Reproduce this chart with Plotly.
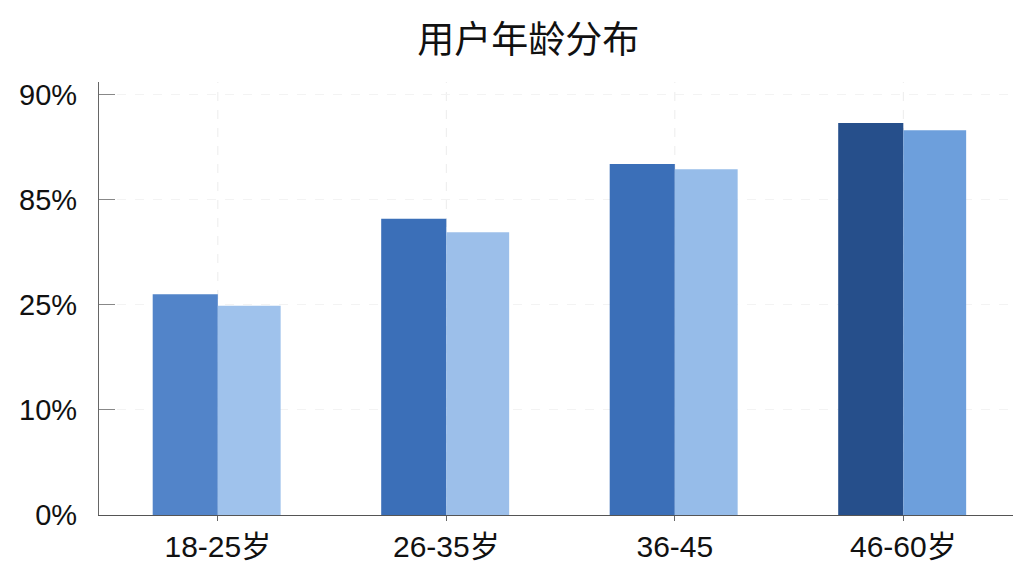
import plotly.graph_objects as go

# age groups and the two bar series (values in axis grid units)
age_groups = ['18-25岁', '26-35岁', '36-45', '46-60岁']
series_a = [2.10, 2.82, 3.34, 3.73]
series_b = [1.99, 2.69, 3.29, 3.66]

# y tick labels as printed on the chart
tick_pos = [0, 1, 2, 3, 4]
tick_text = ['0%', '10%', '25%', '85%', '90%']

colors_a = ['#5284c9', '#3b6fb8', '#3b6fb8', '#264f8b']
colors_b = ['#9fc2ec', '#9cbfea', '#96bce9', '#6d9fdc']

fig = go.Figure()
fig.add_trace(go.Bar(x=age_groups, y=series_a, width=0.285, offset=-0.285,
                     marker=dict(color=colors_a, line=dict(width=0))))
fig.add_trace(go.Bar(x=age_groups, y=series_b, width=0.275, offset=0,
                     marker=dict(color=colors_b, line=dict(width=0))))

# faint dashed guides at each category centre
for g in age_groups:
    fig.add_vline(x=g, line=dict(color='#ececec', width=1, dash='dash'), layer='below')

fig.update_layout(
    width=1024, height=576,
    margin=dict(l=91, r=19, t=74, b=69),
    paper_bgcolor='white', plot_bgcolor='white',
    showlegend=False,
    font=dict(family='Liberation Sans, Noto Sans CJK SC', color='#1a1a1a'),
    title=dict(text='用户年龄分布', x=0.508, xanchor='center', y=0.945, yanchor='middle',
               font=dict(family='Noto Sans CJK SC', size=37, color='#111111')),
    xaxis=dict(range=[-0.52, 3.48], showgrid=False, showline=True, linecolor='#555555',
               linewidth=1.2, ticks='outside', ticklen=5, tickcolor='#666666',
               tickfont=dict(size=30, family='Liberation Sans, Noto Sans CJK SC', color='#111111'),
               ticklabelstandoff=0, automargin=False),
    yaxis=dict(range=[0, 4.12], tickvals=tick_pos, ticktext=tick_text,
               showline=True, linecolor='#666666', linewidth=1.2,
               ticks='inside', ticklen=16, tickcolor='#888888',
               showgrid=True, gridcolor='#f3f3f3', griddash='dash', zeroline=False,
               tickfont=dict(size=29, color='#111111'), ticklabelstandoff=15,
               automargin=False),
    yaxis2=dict(range=[0, 4.12], overlaying='y', side='right', tickvals=tick_pos,
                showticklabels=False, ticks='inside', ticklen=14, tickcolor='#999999',
                showline=False, showgrid=False, zeroline=False, automargin=False),
)

fig.write_html("out.html")
